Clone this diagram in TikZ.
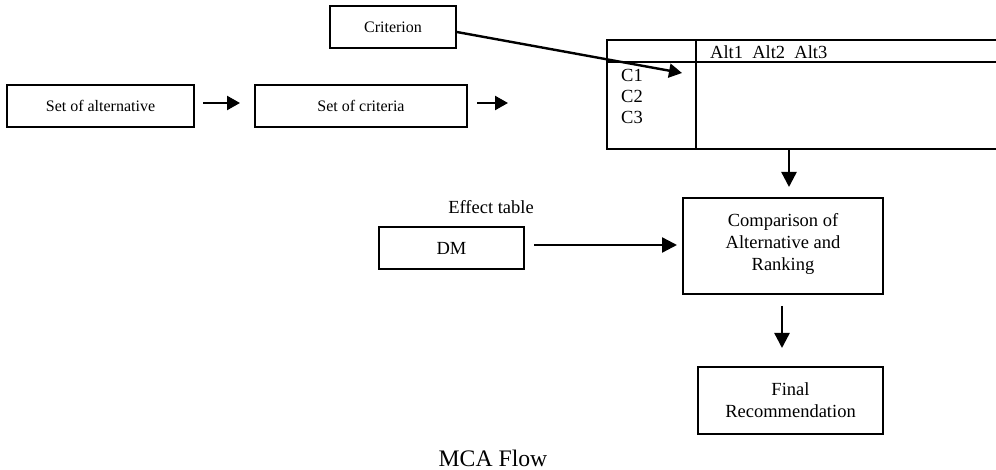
\documentclass[tikz,border=0pt]{standalone}
\usepackage{fontspec}
\setmainfont{Liberation Serif}
\usetikzlibrary{arrows.meta}
\begin{document}
\begin{tikzpicture}[x=1pt,y=-1pt,
  box/.style={draw,line width=1.6pt,inner sep=0pt,align=center},
  small/.style={font=\fontsize{16}{19}\selectfont},
  mid/.style={font=\fontsize{18.5}{22}\selectfont},
  arr/.style={line width=2.4pt,-{Triangle[length=15pt,width=15pt]}},
  sarr/.style={line width=2.4pt,-{Triangle[length=13pt,width=14pt]}},
  tline/.style={line width=1.8pt}]
\useasboundingbox (0,0) rectangle (996,470);
% top row
\node[box,small,minimum width=187pt,minimum height=42pt] (alt) at (100.5,106) {Set of alternative};
\node[box,small,minimum width=212pt,minimum height=42pt] (crit) at (361,106) {Set of criteria};
\node[box,small,minimum width=126pt,minimum height=42pt] (criterion) at (393,27) {Criterion};
% table
\draw[tline] (996,40) -- (607,40) -- (607,149) -- (996,149);
\draw[tline] (607,62) -- (996,62);
\draw[tline] (696,40) -- (696,149);
\node[mid,anchor=west,inner sep=0pt] (alts) at (710,52) {Alt1\ \ Alt2\ \ Alt3};
\node[mid,anchor=west,inner sep=0pt] (c1) at (621,75) {C1};
\node[mid,anchor=west,inner sep=0pt] (c2) at (621,96) {C2};
\node[mid,anchor=west,inner sep=0pt] (c3) at (621,117) {C3};
% lower part
\node[mid,inner sep=0pt] (eff) at (491,207) {Effect table};
\node[box,mid,minimum width=145pt,minimum height=42pt] (dm) at (451.5,248) {DM};
\node[box,mid,minimum width=200pt,minimum height=96pt,text depth=8pt] (comp) at (783,246) {Comparison of\\Alternative and\\Ranking};
\node[box,mid,minimum width=185pt,minimum height=67pt] (final) at (790.5,400.5) {Final\\Recommendation};
\node[inner sep=0pt,font=\fontsize{23.7}{28}\selectfont] (cap) at (493,458) {MCA Flow};
% connector coordinates
\coordinate (a1s) at (203,103); \coordinate (a1e) at (240,103);
\coordinate (a2s) at (477,103); \coordinate (a2e) at (508,103);
\coordinate (cre) at (682,73);
\coordinate (t1s) at (789,150); \coordinate (t1e) at (789,187);
\coordinate (dms) at (534,245); \coordinate (dme) at (677,245);
\coordinate (d2s) at (782,306); \coordinate (d2e) at (782,348);
% arrows
\draw[sarr] (a1s) -- (a1e);
\draw[sarr] (a2s) -- (a2e);
\draw[sarr] (criterion.east) ++(0,5) -- (cre);
\draw[arr] (t1s) -- (t1e);
\draw[arr] (dms) -- (dme);
\draw[arr] (d2s) -- (d2e);
\end{tikzpicture}
\end{document}
